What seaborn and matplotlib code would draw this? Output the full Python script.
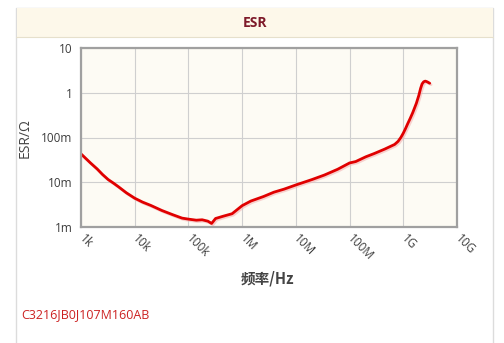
import numpy as np
import pandas as pd
import matplotlib
matplotlib.use("Agg")
import matplotlib.pyplot as plt
import matplotlib.patheffects as pe
from matplotlib.patches import Rectangle
import seaborn as sns

# ---- data ----
freq_hz = [1e3, 1.5e3, 2e3, 2.5e3, 3.2e3, 4e3, 5e3, 7e3, 1e4, 1.4e4, 2e4, 3.2e4,
           5e4, 7.6e4, 1e5, 1.4e5, 1.8e5, 2.3e5, 2.7e5, 3.2e5, 4.5e5, 6.5e5,
           1e6, 1.45e6, 2.5e6, 3.9e6, 6e6, 1e7, 2e7, 3.4e7, 6e7, 1e8, 1.3e8,
           2e8, 2.9e8, 4.5e8, 6.9e8, 8e8, 9e8, 1e9, 1.1e9, 1.2e9, 1.35e9,
           1.5e9, 1.75e9, 1.95e9, 2.1e9, 2.24e9, 2.4e9, 2.57e9, 2.8e9, 3.1e9]
esr_ohm = [43e-3, 27e-3, 19.8e-3, 15e-3, 11.5e-3, 9.6e-3, 7.9e-3, 5.8e-3, 4.4e-3,
           3.6e-3, 3.03e-3, 2.34e-3, 1.9e-3, 1.58e-3, 1.5e-3, 1.42e-3, 1.45e-3,
           1.35e-3, 1.2e-3, 1.55e-3, 1.75e-3, 1.98e-3, 3.0e-3, 3.8e-3, 4.8e-3,
           6.0e-3, 7.0e-3, 8.7e-3, 11.5e-3, 14.5e-3, 19.5e-3, 27e-3, 29e-3,
           37e-3, 44e-3, 55e-3, 70e-3, 82e-3, 100e-3, 125e-3, 158e-3, 200e-3,
           270e-3, 360e-3, 580e-3, 880e-3, 1.25, 1.58, 1.76, 1.82, 1.75, 1.63]

x_ticks = [1e3, 1e4, 1e5, 1e6, 1e7, 1e8, 1e9, 1e10]
x_tick_labels = ["1k", "10k", "100k", "1M", "10M", "100M", "1G", "10G"]
y_ticks = [1e-3, 1e-2, 1e-1, 1, 10]
y_tick_labels = ["1m", "10m", "100m", "1", "10"]

title_text = "ESR"
x_label = "频率/Hz"
y_label = "ESR/Ω"
part_number = "C3216JB0J107M160AB"

df = pd.DataFrame({"freq": freq_hz, "esr": esr_ohm})

sns.set_style("white")
plt.rcParams["font.family"] = ["Open Sans", "Noto Sans CJK SC", "DejaVu Sans"]

W, H = 504, 343
fig = plt.figure(figsize=(W / 100, H / 100), dpi=100)
fig.patch.set_facecolor("white")

def fx(px):
    return px / W

def fy(py):
    return 1 - py / H

# panel border and title band
fig.patches.append(Rectangle((fx(16), fy(345)), fx(493) - fx(16), fy(8) - fy(345),
                             transform=fig.transFigure, facecolor="white",
                             edgecolor="#dcdcdc", linewidth=1.0, zorder=0))
fig.patches.append(Rectangle((fx(16.5), fy(37)), fx(492.5) - fx(16.5), fy(8.5) - fy(37),
                             transform=fig.transFigure, facecolor="#fdf8ea",
                             edgecolor="none", zorder=0.5))
fig.lines.append(plt.Line2D([fx(16), fx(493)], [fy(37), fy(37)],
                            transform=fig.transFigure, color="#e6e0cc", lw=0.8,
                            zorder=0.6))
fig.text(fx(255), fy(23), title_text, ha="center", va="center", fontsize=10,
         fontweight="bold", color="#7e1a2a")

ax = fig.add_axes([fx(81), fy(227), fx(457) - fx(81), fy(48) - fy(227)])
ax.set_zorder(3)
ax.set_facecolor("#fdfbf4")

sns.lineplot(data=df, x="freq", y="esr", ax=ax, color="#e00000", linewidth=2.0,
             path_effects=[pe.SimpleLineShadow(offset=(1.0, -1.0), shadow_color="#f4b4b4",
                                               alpha=0.6),
                           pe.Normal()])
ax.set_xscale("log")
ax.set_yscale("log")
ax.set_xlim(1e3, 1e10)
ax.set_ylim(1e-3, 10)

ax.set_xticks(x_ticks)
ax.set_xticklabels(x_tick_labels)
ax.set_yticks(y_ticks)
ax.set_yticklabels(y_tick_labels)
ax.minorticks_off()

ax.grid(True, color="#cfcfcf", linewidth=0.8)
for s in ax.spines.values():
    s.set_color("#a0a0a0")
    s.set_linewidth(1.6)

ax.tick_params(axis="both", which="major", length=4, width=1, color="#a0a0a0",
               labelsize=8.5, labelcolor="#3c3c3c", direction="out")
ax.tick_params(axis="y", pad=2)
ax.tick_params(axis="x", pad=3)
for lab in ax.get_xticklabels():
    lab.set_rotation(-45)
    lab.set_rotation_mode("anchor")
    lab.set_ha("left")
    lab.set_va("center")

ax.set_xlabel("")
ax.set_ylabel("")
fig.text(fx(267), fy(279), x_label, ha="center", va="center", fontsize=10.5,
         fontweight="bold", color="#444444",
         family=["Noto Sans CJK SC", "DejaVu Sans"])
fig.text(fx(25), fy(138), y_label, ha="center", va="center", rotation=90,
         fontsize=10, color="#444444", family=["Open Sans", "DejaVu Sans"])
fig.text(fx(21), fy(315), part_number, ha="left", va="center", fontsize=9,
         color="#cc2222")

fig.savefig("out.png", dpi=100, facecolor=fig.get_facecolor())
